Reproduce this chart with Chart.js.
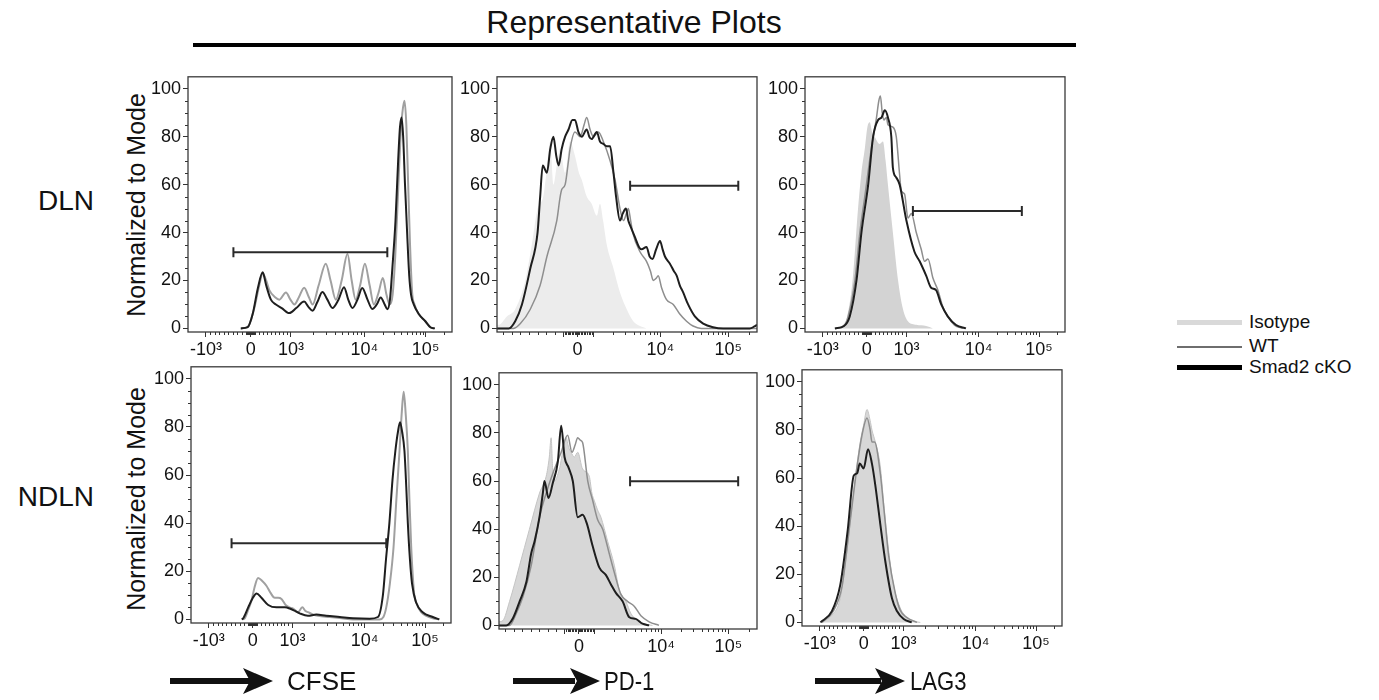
<!DOCTYPE html>
<html>
<head>
<meta charset="utf-8">
<script src="https://cdn.jsdelivr.net/npm/chart.js@4.4.1/dist/chart.umd.min.js"></script>
<style>
  body { margin: 0; background: #fff; }
  #page { position: relative; width: 1379px; height: 700px; overflow: hidden; font-family: 'Liberation Sans', Arial, sans-serif; color: #111; }
  canvas { position: absolute; }
  .txt { position: absolute; white-space: nowrap; }
  .ylab { position: absolute; width: 300px; height: 30px; line-height: 30px; text-align: center; font-size: 25px; transform: rotate(-90deg); }
  .leg-line { position: absolute; left: 1177px; width: 65px; }
  .leg-txt { position: absolute; left: 1249px; font-size: 19px; line-height: 20px; }
  .narrow { transform: scaleX(0.85); transform-origin: left center; }
</style>
</head>
<body>
<div id="page">
  <div class="txt" style="left:334px;width:600px;top:4px;text-align:center;font-size:32px;line-height:36px;">Representative Plots</div>
  <div style="position:absolute;left:193px;top:43px;width:883px;height:4px;background:#000;"></div>

  <div class="txt" style="right:1285px;top:186px;font-size:28px;line-height:30px;">DLN</div>
  <div class="txt" style="right:1285px;top:482px;font-size:28px;line-height:30px;">NDLN</div>
  <div class="ylab" style="left:-14px;top:190px;">Normalized to Mode</div>
  <div class="ylab" style="left:-14px;top:484px;">Normalized to Mode</div>

  <canvas id="c1"></canvas><canvas id="c2"></canvas><canvas id="c3"></canvas>
  <canvas id="c4"></canvas><canvas id="c5"></canvas><canvas id="c6"></canvas>

  <div class="leg-line" style="top:320px;height:5px;background:#d9d9d9;"></div>
  <div class="leg-txt" style="top:312px;">Isotype</div>
  <div class="leg-line" style="top:346px;height:2px;background:#6e6e6e;"></div>
  <div class="leg-txt" style="top:336px;">WT</div>
  <div class="leg-line" style="top:365px;height:5px;background:#000;"></div>
  <div class="leg-txt" style="top:357px;">Smad2 cKO</div>

  <svg style="position:absolute;left:0;top:0;" width="1379" height="700">
    <g fill="#111" stroke="none">
      <rect x="170" y="678" width="80" height="6"/>
      <path d="M273 681 L243 668 L250 681 L243 694 Z"/>
      <rect x="513" y="678" width="62" height="6"/>
      <path d="M600 681 L570 668 L577 681 L570 694 Z"/>
      <rect x="815" y="678" width="66" height="6"/>
      <path d="M905 681 L875 668 L882 681 L875 694 Z"/>
    </g>
  </svg>
  <div class="txt" style="left:287px;top:666px;font-size:26px;line-height:30px;">CFSE</div>
  <div class="txt narrow" style="left:604px;top:666px;font-size:26px;line-height:30px;">PD-1</div>
  <div class="txt narrow" style="left:910px;top:666px;font-size:26px;line-height:30px;">LAG3</div>
</div>

<script>
// ---- axis ticks (x in display channels 0..1000 of a biexponential axis) ----
const yTicks = [0, 20, 40, 60, 80, 100];
const yMinorTicks = [5, 10, 15, 25, 30, 35, 45, 50, 55, 65, 70, 75, 85, 90, 95];

const logTickValues = [-1000, 0, 1000, 10000, 100000];
const logTickChannels = [68, 238, 390, 668, 900];
const logTickLabels = ['-10\u00b3', '0', '10\u00b3', '10\u2074', '10\u2075'];

const pd1TickValues = [-10000, -1000, 0, 1000, 10000, 100000];
const pd1TickChannels = [-42, 255, 310, 370, 628, 889];
const pd1TickLabels = ['', '', '0', '', '10\u2074', '10\u2075'];

// ---- DLN, CFSE ----
const dlnCfseWt = [[200,0],[226,0.5],[250,8],[270,18],[283,23],[296,20],[308,16],[330,13],[346,12],[371,15],[388,12],[403,10],[420,13],[440,17],[458,13],[472,10],[495,18],[522,27],[540,20],[560,12],[582,20],[604,31],[620,20],[635,12],[652,18],[670,27],[688,18],[704,10],[722,15],[738,21],[752,14],[764,10],[775,14],[785,30],[795,55],[805,80],[812,90],[820,95],[827,85],[834,60],[841,35],[849,15],[858,10],[874,6],[899,3],[918,0.5],[935,0]];
const dlnCfseKo = [[200,0],[226,0.5],[245,6],[265,17],[283,23.4],[296,18],[314,12],[333,10],[355,8.5],[384,6.4],[410,8.5],[440,11.2],[456,9],[472,7.4],[490,11],[509,15.2],[528,12],[547,8.5],[570,12],[591,17.2],[607,12],[623,8.5],[642,12],[660,16.9],[680,12],[698,8.1],[715,10],[730,12.9],[745,10],[755,8],[765,12],[774,25],[786,45],[796,70],[803,84],[809,88],[815,80],[822,60],[830,40],[838,22],[845,14],[855,10],[874,6],[899,3],[918,0.5],[935,0]];
const dlnCfseGate = [172, 755, 31.8];

// ---- DLN, PD-1 ----
const dlnPd1Iso = [[0,1.5],[6,1.5],[38,5],[70,8],[109,20],[134,35],[156,50],[166,52],[178,55],[190,65],[205,78],[217,60],[230,68],[243,75],[262,65],[281,78],[300,72],[315,65],[326,62],[345,55],[364,52],[384,47],[396,52],[408,45],[422,35],[448,25],[473,15],[499,8],[524,3],[550,1],[575,0]];
const dlnPd1Wt = [[0,0],[64,0],[90,2],[128,8],[166,18],[192,30],[230,45],[243,55],[249,58],[262,60],[275,70],[281,75],[300,82],[320,80],[335,85],[345,88],[358,83],[371,80],[390,82],[409,78],[435,70],[454,62],[473,50],[486,45],[498,48],[505,50],[514,45],[522,40],[550,32],[575,28],[590,24],[601,20],[613,21],[620,22],[633,17],[652,12],[678,10],[703,6],[729,3],[754,1],[786,0],[1000,0]];
const dlnPd1Ko = [[0,0],[45,0],[70,3],[96,10],[128,25],[156,40],[166,55],[176,68],[192,65],[205,75],[217,80],[228,72],[237,68],[249,75],[262,80],[275,83],[290,87],[300,87],[313,82],[326,80],[345,83],[355,80],[364,79],[384,82],[396,78],[409,77],[422,76],[435,76],[448,65],[458,55],[473,45],[484,48],[496,50],[505,45],[512,43],[531,38],[546,34],[556,33],[575,34],[587,30],[598,29],[612,33],[627,36.5],[637,33],[646,30],[665,27],[680,24],[691,22],[703,18],[716,15],[735,10],[761,5],[793,2],[831,0.5],[870,0],[972,0],[990,0.8],[1000,1.5]];
const dlnPd1Gate = [512, 928, 59.5];

// ---- DLN, LAG3 ----
const dlnLag3Iso = [[121,0],[150,2],[162,5],[183,20],[204,50],[217,65],[230,75],[240,84],[249,86],[258,82],[268,80],[287,77],[300,78],[310,70],[319,60],[338,40],[358,20],[377,8],[396,3],[428,1.5],[466,1],[492,0]];
const dlnLag3Wt = [[115,0],[150,1],[166,5],[192,20],[211,40],[230,55],[255,75],[275,88],[284,95],[290,97],[297,90],[303,87],[313,88],[319,85],[338,84],[351,80],[364,64],[370,57.5],[383,56],[396,46],[409,48],[428,40],[447,33],[460,28],[473,29],[492,21],[511,16],[530,9],[549,5],[575,1.4],[607,0]];
const dlnLag3Ko = [[115,0],[150,1],[172,5],[198,20],[217,40],[243,60],[262,80],[281,87],[294,88],[307,91],[319,88],[332,80],[338,67],[351,63],[364,60],[390,45],[421,32],[441,28],[466,22],[485,17],[504,16],[524,10],[549,5],[581,1.4],[619,0]];
const dlnLag3Gate = [415, 834, 49];

// ---- NDLN, CFSE ----
const ndlnCfseWt = [[200,0],[207,0.5],[220,4],[233,8],[246,14],[258,17.2],[274,16],[290,14],[306,11],[322,9],[335,9],[348,8.5],[364,6],[378,5],[393,4.5],[412,3],[428,5],[440,3.5],[450,3],[470,2],[488,1.5],[533,1],[580,0.5],[623,0],[725,0],[740,1],[751,5],[765,15],[779,30],[790,50],[802,70],[810,85],[818,94.6],[826,85],[834,70],[840,50],[847,30],[853,18],[859,10],[870,6],[885,3],[905,1.5],[930,0.5],[955,0]];
const ndlnCfseKo = [[195,0],[201,0.5],[220,5],[238,9],[252,10.8],[271,9],[297,6],[329,5],[361,5],[380,4.5],[400,3.5],[418,2.5],[450,1.5],[482,2],[520,1.5],[572,1],[623,0.5],[687,0.3],[719,1],[738,10],[750,25],[763,40],[775,58],[786,70],[796,78],[804,82],[812,78],[821,70],[828,55],[834,40],[842,25],[850,15],[866,7],[891,3],[930,1],[955,0]];
const ndlnCfseGate = [156, 751, 31.6];

// ---- NDLN, PD-1 ----
const ndlnPd1Iso = [[0,1.5],[15,2],[41,10],[80,25],[118,40],[157,55],[183,62],[195,70],[202,78],[208,65],[215,60],[234,65],[260,78],[270,74],[279,72],[292,70],[305,72],[324,65],[350,62],[360,55],[369,52],[382,48],[395,45],[421,35],[447,25],[466,15],[492,10],[511,5],[537,2],[569,0.5],[595,0]];
const ndlnPd1Wt = [[0,0],[41,0],[67,5],[93,12],[125,25],[157,45],[189,57],[215,65],[241,72],[266,79],[283,72],[295,75],[305,78],[315,77],[324,76],[344,60],[363,52],[382,44],[402,40],[427,30],[447,22],[472,13],[498,10],[524,8],[550,4],[582,1.5],[620,0]];
const ndlnPd1Ko = [[0,0],[28,0],[54,3],[80,10],[106,18],[125,30],[138,35],[157,45],[170,55],[176,60],[192,53],[208,59],[228,68],[241,83],[254,70],[270,65.5],[286,60],[305,45],[324,46],[340,42.5],[363,33],[389,24],[414,21],[434,17],[453,13.5],[479,10],[505,3.4],[530,2.7],[556,0.7],[582,0]];
const ndlnPd1Gate = [508, 927, 59.9];

// ---- NDLN, LAG3 ----
const ndlnLag3Iso = [[71,0],[115,3],[147,10],[173,30],[199,55],[224,75],[237,82],[250,88.5],[262,84],[269,80],[282,75],[301,65],[314,50],[333,30],[353,15],[378,6],[404,2],[429,0.5],[455,0]];
const ndlnLag3Wt = [[77,0],[122,5],[154,15],[183,40],[212,65],[231,78],[250,85],[262,80],[269,75],[279,75],[301,62],[317,45],[333,28],[359,12],[378,5],[404,2],[442,0]];
const ndlnLag3Ko = [[71,0],[115,4.7],[147,15.5],[176,38.5],[199,61],[212,62],[222,66],[237,64],[254,72],[269,66],[282,57],[301,41],[321,25],[346,10],[365,4.7],[391,1.4],[422,0]];

// ---- helpers ----
function toChannel(v, vals, chans) {
  const n = vals.length;
  let i = 0;
  if (v >= vals[n - 1]) i = n - 2;
  else if (v > vals[0]) { while (v > vals[i + 1]) i++; }
  const a = vals[i], b = vals[i + 1];
  const t = a >= 1000
    ? (Math.log10(v) - Math.log10(a)) / (Math.log10(b) - Math.log10(a))
    : (v - a) / (b - a);
  return chans[i] + t * (chans[i + 1] - chans[i]);
}

function minorChannels(vals, chans) {
  const out = [];
  [10, 100, 1000, 10000, 100000].forEach(m => {
    for (let k = 1; k <= 9; k++) {
      [k * m, -k * m].forEach(v => {
        if (vals.includes(v) || v > 262144) return;
        const c = toChannel(v, vals, chans);
        if (c >= 0 && c <= 1000) out.push(c);
      });
    }
  });
  return out;
}

const axes = {
  cfse: { vals: logTickValues, chans: logTickChannels, labels: logTickLabels },
  pd1: { vals: pd1TickValues, chans: pd1TickChannels, labels: pd1TickLabels }
};
axes.cfse.minor = minorChannels(axes.cfse.vals, axes.cfse.chans);
axes.pd1.minor = minorChannels(axes.pd1.vals, axes.pd1.chans);

const pts = arr => arr.map(p => ({x: p[0], y: p[1]}));

function curve(data, color, width) {
  return { data: pts(data), borderColor: color, borderWidth: width, pointRadius: 0, fill: false,
           cubicInterpolationMode: 'monotone' };
}
function isotype(data, fillColor, edge) {
  return { data: pts(data), borderColor: edge, borderWidth: edge ? 1 : 0, backgroundColor: fillColor,
           pointRadius: 0, fill: 'origin', cubicInterpolationMode: 'monotone' };
}
function gate(g) {
  return { data: [{x: g[0], y: g[2]}, {x: g[1], y: g[2]}], borderColor: '#2a2a2a', borderWidth: 2,
           pointStyle: 'line', rotation: 90, pointRadius: 5, pointBorderWidth: 2,
           pointBorderColor: '#2a2a2a', fill: false };
}

const frame = {
  id: 'frame',
  afterDraw(chart, args, opts) {
    const {ctx, chartArea: a, scales: {x, y}} = chart;
    ctx.save();
    ctx.strokeStyle = '#333';
    ctx.lineWidth = 1;
    ctx.beginPath();
    opts.minorX.forEach(c => {
      const px = Math.round(x.getPixelForValue(c)) + 0.5;
      ctx.moveTo(px, a.bottom); ctx.lineTo(px, a.bottom + 3);
    });
    yMinorTicks.forEach(v => {
      const py = Math.round(y.getPixelForValue(v)) + 0.5;
      ctx.moveTo(a.left, py); ctx.lineTo(a.left - 3, py);
    });
    ctx.stroke();
    ctx.lineWidth = 1.3;
    ctx.strokeStyle = '#3a3a3a';
    ctx.strokeRect(a.left, a.top, a.right - a.left, a.bottom - a.top);
    ctx.restore();
  }
};

const PADL = 75, PADT = 6, PADR = 6, PADB = 40;

function makePanel(id, box, axisKey, datasets) {
  const ax = axes[axisKey];
  const el = document.getElementById(id);
  const w = box[2] - box[0], h = box[3] - box[1];
  el.width = w + PADL + PADR; el.height = h + PADT + PADB;
  el.style.left = (box[0] - PADL) + 'px';
  el.style.top = (box[1] - PADT) + 'px';
  const shown = ax.chans.map((c, i) => ({c, l: ax.labels[i]})).filter(t => t.c >= 0 && t.c <= 1000);
  return new Chart(el, {
    type: 'line',
    data: { datasets },
    options: {
      responsive: false, animation: false, devicePixelRatio: 1,
      layout: { padding: { left: 0, top: PADT, right: PADR, bottom: 0 } },
      plugins: { legend: { display: false }, tooltip: { enabled: false }, frame: { minorX: ax.minor } },
      scales: {
        x: {
          type: 'linear', min: 0, max: 1000,
          afterFit: s => { s.height = PADB; },
          afterBuildTicks: s => { s.ticks = shown.map(t => ({value: t.c})); },
          ticks: { autoSkip: false, maxRotation: 0, padding: 2, color: '#111',
                   font: { size: 18 }, callback: (v, i) => shown[i] ? shown[i].l : '' },
          grid: { drawOnChartArea: false, tickLength: 5, color: '#333' },
          border: { display: false }
        },
        y: {
          type: 'linear', min: -1.5, max: 105,
          afterFit: s => { s.width = PADL; },
          afterBuildTicks: s => { s.ticks = yTicks.map(v => ({value: v})); },
          ticks: { padding: 2, color: '#111', font: { size: 18 } },
          grid: { drawOnChartArea: false, tickLength: 5, color: '#333' },
          border: { display: false }
        }
      }
    },
    plugins: [frame]
  });
}

Chart.defaults.font.family = "'Liberation Sans', Arial, sans-serif";

const KO = '#1e1e1e', WT = '#8e8e8e';

makePanel('c1', [188, 70, 453, 332], 'cfse', [
  gate(dlnCfseGate), curve(dlnCfseKo, KO, 2), curve(dlnCfseWt, '#a0a0a0', 2)
]);
makePanel('c2', [497, 70, 758, 332], 'pd1', [
  gate(dlnPd1Gate), curve(dlnPd1Ko, KO, 2), curve(dlnPd1Wt, WT, 1.5), isotype(dlnPd1Iso, '#ececec', null)
]);
makePanel('c3', [805, 70, 1066, 332], 'cfse', [
  gate(dlnLag3Gate), curve(dlnLag3Ko, KO, 2), curve(dlnLag3Wt, WT, 1.5), isotype(dlnLag3Iso, '#d3d3d3', null)
]);
makePanel('c4', [191, 360, 452, 623], 'cfse', [
  gate(ndlnCfseGate), curve(ndlnCfseKo, KO, 2), curve(ndlnCfseWt, '#a0a0a0', 2)
]);
makePanel('c5', [499, 366, 758, 629], 'pd1', [
  gate(ndlnPd1Gate), curve(ndlnPd1Ko, KO, 2), curve(ndlnPd1Wt, WT, 1.5), isotype(ndlnPd1Iso, '#d7d7d7', '#c4c4c4')
]);
makePanel('c6', [802, 363, 1062, 626], 'cfse', [
  curve(ndlnLag3Ko, KO, 2), curve(ndlnLag3Wt, WT, 1.5), isotype(ndlnLag3Iso, '#d7d7d7', '#c4c4c4')
]);
</script>
</body>
</html>
